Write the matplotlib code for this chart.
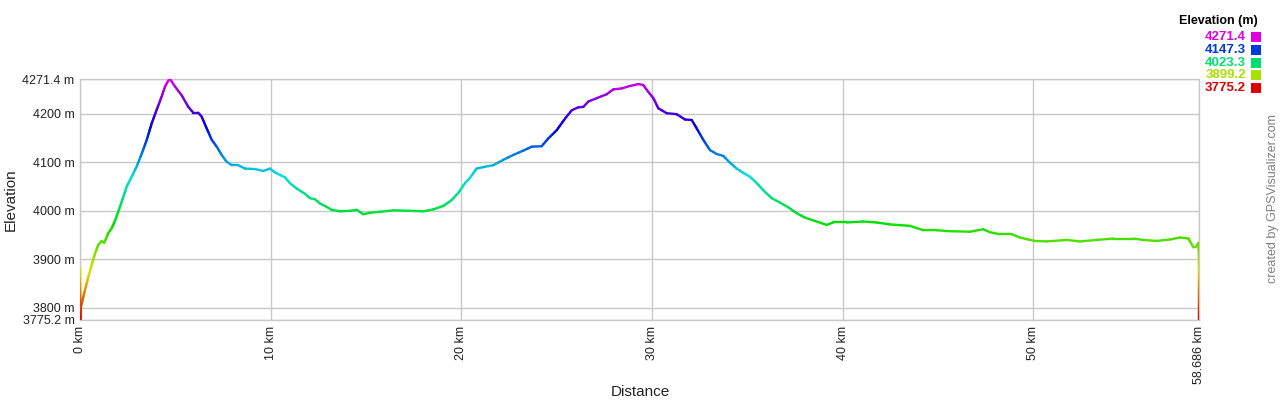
import numpy as np
import matplotlib
matplotlib.use("Agg")
import matplotlib.pyplot as plt
from matplotlib.collections import LineCollection
from matplotlib.colors import hsv_to_rgb
from matplotlib.patches import Rectangle

# ---- data ----
distance_km = [
    0.00, 0.02, 0.05, 0.09, 0.26, 0.44, 0.61, 0.79, 0.96, 1.14, 1.27, 1.48, 1.66,
    1.84, 1.98, 2.19, 2.45, 2.71, 2.97, 3.24, 3.50, 3.76, 4.02, 4.28, 4.46, 4.63,
    4.72, 4.98, 5.33, 5.68, 5.94, 6.20, 6.38, 6.64, 6.91, 7.17, 7.43, 7.69, 7.96,
    8.30, 8.65, 9.18, 9.61, 9.96, 10.19, 10.32, 10.75, 11.01, 11.36, 11.80, 12.06,
    12.32, 12.59, 12.94, 13.20, 13.64, 14.16, 14.51, 14.86, 15.21, 15.73, 16.43,
    17.31, 18.00, 18.53, 19.05, 19.49, 19.84, 20.19, 20.45, 20.80, 21.15, 21.68,
    22.20, 22.72, 23.25, 23.69, 24.21, 24.56, 25.00, 25.44, 25.79, 26.13, 26.40,
    26.66, 27.10, 27.62, 27.97, 28.41, 28.84, 29.28, 29.54, 29.80, 30.07, 30.33,
    30.77, 31.29, 31.73, 32.08, 32.34, 32.69, 33.04, 33.39, 33.74, 34.09, 34.44,
    34.79, 35.14, 35.49, 35.92, 36.28, 36.71, 37.15, 37.59, 38.02, 38.55, 39.16,
    39.51, 40.21, 41.08, 41.78, 42.48, 43.53, 44.23, 44.93, 45.63, 46.68, 47.37,
    47.72, 48.21, 48.42, 48.86, 49.30, 49.73, 50.08, 50.70, 51.75, 52.44, 53.32,
    54.19, 55.24, 55.76, 56.47, 57.17, 57.69, 58.13, 58.39, 58.53, 58.66, 58.68,
    58.686,
]
elevation_m = [
    3882, 3776, 3803, 3809, 3837, 3864, 3888, 3912, 3930, 3938, 3934, 3954, 3964,
    3980, 3995, 4019, 4050, 4070, 4091, 4118, 4146, 4180, 4208, 4235, 4256, 4268,
    4271.4, 4256, 4238, 4214, 4202, 4202, 4194, 4170, 4146, 4132, 4115, 4101, 4094,
    4094, 4087, 4086, 4082, 4087, 4080, 4077, 4069, 4057, 4046, 4035, 4026,
    4024, 4015, 4008, 4002, 3999, 4000, 4002, 3993, 3996, 3998, 4001,
    4000, 3999, 4003, 4010, 4022, 4037, 4057, 4068, 4087, 4090, 4094,
    4105, 4115, 4124, 4132, 4133, 4149, 4166, 4190, 4207, 4213, 4214,
    4225, 4232, 4240, 4250, 4252, 4257, 4261, 4259, 4245, 4232, 4211,
    4201, 4199, 4188, 4187, 4170, 4146, 4125, 4117, 4113, 4099, 4087,
    4078, 4070, 4057, 4039, 4026, 4017, 4007, 3995, 3986, 3979, 3971,
    3976, 3976, 3978, 3976, 3972, 3969, 3960, 3960, 3958, 3957, 3962,
    3956, 3952, 3952, 3952, 3945, 3941, 3938, 3937, 3940, 3937, 3940,
    3943, 3943, 3940, 3938, 3941, 3945, 3943, 3925, 3926, 3934, 3907,
    3775.2,
]
y_ticks = [3775.2, 3800, 3900, 4000, 4100, 4200, 4271.4]
y_tick_labels = ["3775.2 m", "3800 m", "3900 m", "4000 m", "4100 m", "4200 m", "4271.4 m"]
x_ticks = [0, 10, 20, 30, 40, 50, 58.686]
x_tick_labels = ["0 km", "10 km", "20 km", "30 km", "40 km", "50 km", "58.686 km"]
legend_values = [4271.4, 4147.3, 4023.3, 3899.2, 3775.2]
legend_labels = ["4271.4", "4147.3", "4023.3", "3899.2", "3775.2"]

E_MIN, E_MAX = 3775.2, 4271.4
X_MAX = 58.686

plt.rcParams["font.family"] = ["Liberation Sans", "DejaVu Sans"]


def elev_color(e):
    frac = np.clip((e - E_MIN) / (E_MAX - E_MIN), 0, 1)
    return hsv_to_rgb([frac * 300.0 / 360.0, 1.0, 0.88])


fig = plt.figure(figsize=(12.8, 4.0), dpi=100)
ax = fig.add_axes([80 / 1280, 80 / 400, 1119 / 1280, 241 / 400])

# coloured elevation line (segments subdivided so colour follows elevation)
xs = np.asarray(distance_km, float)
ys = np.asarray(elevation_m, float)
segs, cols = [], []
for i in range(len(xs) - 1):
    n = max(1, int(abs(ys[i + 1] - ys[i]) / 4))
    t = np.linspace(0, 1, n + 1)
    px = xs[i] + (xs[i + 1] - xs[i]) * t
    py = ys[i] + (ys[i + 1] - ys[i]) * t
    for j in range(n):
        segs.append([(px[j], py[j]), (px[j + 1], py[j + 1])])
        cols.append(elev_color(0.5 * (py[j] + py[j + 1])))
lc = LineCollection(segs, colors=cols, linewidths=1.7, capstyle="round", zorder=3)
ax.add_collection(lc)

ax.set_xlim(0, X_MAX)
ax.set_ylim(E_MIN, E_MAX)
ax.set_yticks(y_ticks)
ax.set_yticklabels(y_tick_labels)
ax.set_xticks(x_ticks)
ax.set_xticklabels(x_tick_labels, rotation=90)
ax.tick_params(axis="both", length=0, labelsize=9, colors="#222222")
ax.tick_params(axis="y", pad=4)
ax.tick_params(axis="x", pad=4)
ax.grid(True, color="#c8c8c8", linewidth=1.0, zorder=0)
ax.set_axisbelow(True)
for s in ax.spines.values():
    s.set_color("#c8c8c8")
    s.set_linewidth(1.0)

ax.set_ylabel("Elevation", fontsize=11, color="#222222")
ax.yaxis.set_label_coords(-(80 - 18) / 1119, 0.5)
fig.text(640 / 1280, 1 - 392 / 400, "Distance", fontsize=11, color="#222222",
         ha="center", va="center")

# legend (top right)
fig.text(1258 / 1280, 1 - 21 / 400, "Elevation (m)", fontsize=9, fontweight="bold",
         ha="right", va="center", color="#000000")
for k, (v, lab) in enumerate(zip(legend_values, legend_labels)):
    yc = 37 + k * 12.8
    c = elev_color(v)
    fig.text(1246 / 1280, 1 - yc / 400, lab, fontsize=9.5, fontweight="bold",
             ha="right", va="center", color=c)
    fig.patches.append(Rectangle((1251 / 1280, 1 - (yc + 5) / 400), 10 / 1280, 10 / 400,
                                 transform=fig.transFigure, facecolor=c, edgecolor="none"))

fig.text(1273 / 1280, 1 - 199 / 400, "created by GPSVisualizer.com", fontsize=9,
         rotation=90, ha="center", va="center", color="#808080")

fig.savefig("out.png", dpi=100)
